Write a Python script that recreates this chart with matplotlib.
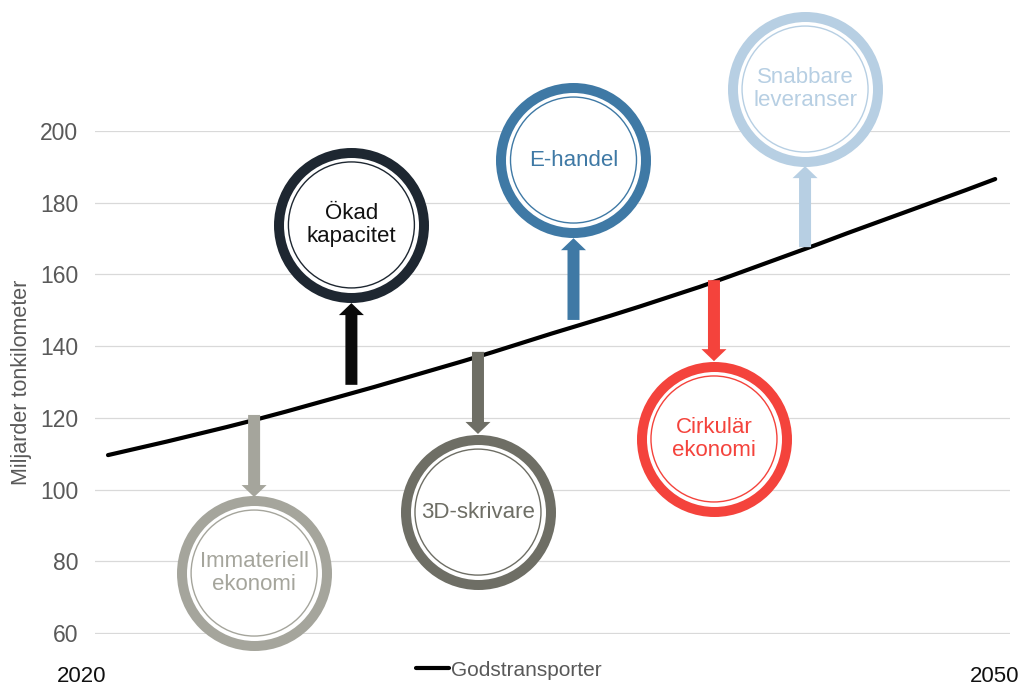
import numpy as np
import matplotlib
matplotlib.use("Agg")
import matplotlib.pyplot as plt

plt.rcParams['font.family'] = ['Liberation Sans', 'DejaVu Sans']

# Godstransporter, miljarder tonkilometer
years = list(range(2020, 2051))
gods = [109.6, 111.5, 113.4, 115.4, 117.4, 119.5, 121.7, 124.0, 126.3, 128.6,
        131.0, 133.4, 135.8, 138.3, 140.9, 143.5, 146.0, 148.5, 151.1, 153.8,
        156.5, 159.4, 162.4, 165.4, 168.4, 171.5, 174.5, 177.5, 180.5, 183.5,
        186.6]

# Drivers: label, circle centre (year, value), arrow start -> arrow end, colours
labels = ['Immateriell\nekonomi', 'Ökad\nkapacitet', '3D-skrivare',
          'E-handel', 'Cirkulär\nekonomi', 'Snabbare\nleveranser']
circle_x = [2024.94, 2028.23, 2032.51, 2035.74, 2040.49, 2043.57]
circle_y = [76.7, 173.8, 93.7, 191.9, 114.1, 211.7]
arrow_from = [120.8, 129.2, 138.4, 147.3, 158.4, 167.6]
arrow_to = [97.9, 152.0, 115.5, 170.1, 135.8, 190.2]
ring_colors = ['#a5a59c', '#1e2731', '#6e6e65', '#3f79a5', '#f4433c', '#b7cfe3']
arrow_colors = ['#a5a59c', '#0a0a0a', '#6e6e65', '#3f79a5', '#f4433c', '#b7cfe3']
text_colors = ['#a5a59c', '#111111', '#6e6e65', '#3f79a5', '#f4433c', '#b7cfe3']

W, H, DPI = 1022, 689, 100
fig = plt.figure(figsize=(W / DPI, H / DPI), dpi=DPI)
ax = fig.add_axes([95 / W, (H - 634) / H, (1010 - 95) / W, (634 - 131) / H])

x0, x1 = 2019.56, 2050.50
y0, y1 = 59.7, 200
ax.set_xlim(x0, x1)
ax.set_ylim(y0, y1)

# pixel scale of the data axes
px_per_x = (1010 - 95) / (x1 - x0)
px_per_y = (634 - 131) / (y1 - y0)

for s in ax.spines.values():
    s.set_visible(False)
ax.set_yticks(np.arange(60, 201, 20))
ax.set_xticks([])
ax.tick_params(axis='y', length=0, pad=12, labelsize=16.5, labelcolor='#595959')
ax.grid(axis='y', color='#d9d9d9', linewidth=0.9)
ax.set_axisbelow(True)
ax.set_ylabel('Miljarder tonkilometer', fontsize=15.5, color='#595959')
ax.yaxis.set_label_coords(-(95 - 32) / (1010 - 95), 0.5)

ax.plot(years, gods, color='black', linewidth=3, solid_capstyle='round',
        label='Godstransporter', zorder=2)

# arrows
for xc, a0, a1, c in zip(circle_x, arrow_from, arrow_to, arrow_colors):
    ax.arrow(xc, a0, 0, a1 - a0, width=12 / px_per_x, head_width=25 / px_per_x,
             head_length=12 / px_per_y, length_includes_head=True,
             color=c, linewidth=0, zorder=3, clip_on=False)

# rings (outer radius ~77 px, ring 10 px, thin inner ring)
pt = 72 / DPI
outer_d = 145 * pt
inner_d = 126 * pt
for xc, yc, lab, rc, tc in zip(circle_x, circle_y, labels, ring_colors, text_colors):
    ax.scatter([xc], [yc], s=outer_d ** 2, facecolor='white', edgecolor=rc,
               linewidth=10 * pt, zorder=4, clip_on=False)
    ax.scatter([xc], [yc], s=inner_d ** 2, facecolor='none', edgecolor=rc,
               linewidth=1.0, zorder=5, clip_on=False)
    ax.text(xc, yc, lab, ha='center', va='center', fontsize=16, color=tc,
            linespacing=1.1, zorder=6)

# year labels at the ends
fig.text(82 / W, 1 - 677 / H, '2020', ha='center', va='center', fontsize=16, color='#111111')
fig.text(995 / W, 1 - 677 / H, '2050', ha='center', va='center', fontsize=16, color='#111111')

leg = ax.legend(loc='center', bbox_to_anchor=(509 / W, 1 - 670 / H),
                bbox_transform=fig.transFigure, frameon=False, fontsize=15,
                handlelength=1.6, handletextpad=0.1, borderpad=0)
for t in leg.get_texts():
    t.set_color('#595959')

fig.savefig('out.png', dpi=DPI)
